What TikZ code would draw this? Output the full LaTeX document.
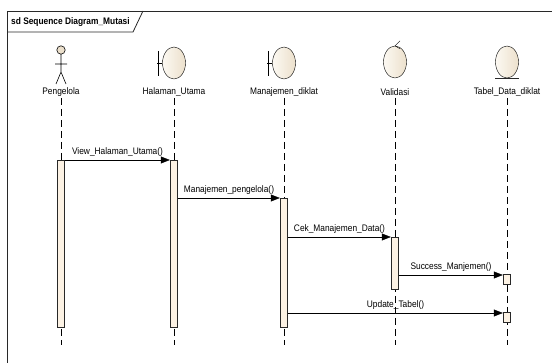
\documentclass[tikz,border=0pt]{standalone}
\usepackage{fontspec}
\setmainfont{Liberation Sans}[FakeStretch=0.88]
\usetikzlibrary{shapes.geometric}
\usetikzlibrary{arrows.meta}
\definecolor{icolight}{RGB}{252,249,242}
\definecolor{icodark}{RGB}{236,224,204}
\definecolor{barfill}{RGB}{252,242,228}
\definecolor{umlline}{RGB}{40,40,40}
\begin{document}
\begin{tikzpicture}[x=1pt, y=-1pt,
        every node/.style={font=\fontsize{9.5}{11}\selectfont, inner sep=0pt},
        ico/.style={ellipse, draw=black, left color=icolight, right color=icodark, minimum width=23pt, minimum height=32pt},
        life/.style={draw=black, dash pattern=on 7pt off 4pt},
        actbar/.style={rectangle, draw=umlline, fill=barfill, minimum width=7pt, anchor=north},
        msg/.style={draw=black, -{Triangle[length=9pt, width=7pt]}, shorten >=0.5pt}]
    \useasboundingbox (0,0) rectangle (552,363);
    \draw[umlline, line width=0.8pt] (7,363) -- (7,11) -- (552,11);
    \draw[umlline, line width=0.8pt] (7,32) -- (133,32) -- (143,11);
    \node[anchor=west, font=\fontsize{9.5}{11}\selectfont\bfseries] (title) at (11,22) {sd Sequence Diagram\_Mutasi};

    % actor
    \draw[line width=0.6pt, fill=icodark] (61,50) circle (4.2);
    \draw[line width=0.6pt] (61,54.2) -- (61,72) (55,64) -- (67,64) (61,72) -- (56,84) (61,72) -- (66,84);
    % boundary
    \node[ico] (hu) at (174,63) {};
    \draw (hu.west) -- ++(-5,0) (158,51) -- (158,76);
    \node[ico] (mj) at (284,63) {};
    \draw (mj.west) -- ++(-5,0) (268,51) -- (268,76);
    % control
    \node[ico] (va) at (395,62) {};
    \draw (va.north) ++(5,-5) -- ++(-5,5) -- ++(5,3);
    % entity
    \node[ico] (tb) at (507,62) {};
    \draw[umlline, line width=1pt] (495,78.5) -- (519,78.5);

    \node (lpg) at (61,92) {Pengelola};
    \node (lhu) at (174,92) {Halaman\_Utama};
    \node (lmj) at (284,92) {Manajemen\_diklat};
    \node (lva) at (395,92) {Validasi};
    \node (ltb) at (507,92) {Tabel\_Data\_diklat};

    \foreach \n/\xx in {pg/61, hu/174, mj/284, va/395, tb/507}
        \draw[life] (\xx,98) -- (\xx,345);

    \node[actbar, minimum height=167pt] (bpg) at (61,160) {};
    \node[actbar, minimum height=167pt] (bhu) at (174,160) {};
    \node[actbar, minimum height=129pt] (bmj) at (284,198) {};
    \node[actbar, minimum height=52pt] (bva) at (395,237) {};
    \node[actbar, minimum height=10pt] (btb1) at (507,274) {};
    \node[actbar, minimum height=10pt] (btb2) at (507,312) {};

    \draw[msg] (bpg.north east) -- node[above=3pt] {View\_Halaman\_Utama()} (bhu.north west);
    \draw[msg] (bhu.east |- bmj.north) -- node[above=3pt] {Manajemen\_pengelola()} (bmj.north west);
    \draw[msg] (bmj.east |- bva.north) -- node[above=3pt] {Cek\_Manajemen\_Data()} (bva.north west);
    \draw[msg] ([yshift=-1pt]bva.east |- btb1.north) -- node[above=3pt] {Success\_Manjemen()} ([yshift=-1pt]btb1.north west);
    \draw[msg] ([yshift=-1pt]bmj.east |- btb2.north) -- node[above=3pt] {Update\_Tabel()} ([yshift=-1pt]btb2.north west);
\end{tikzpicture}
\end{document}
